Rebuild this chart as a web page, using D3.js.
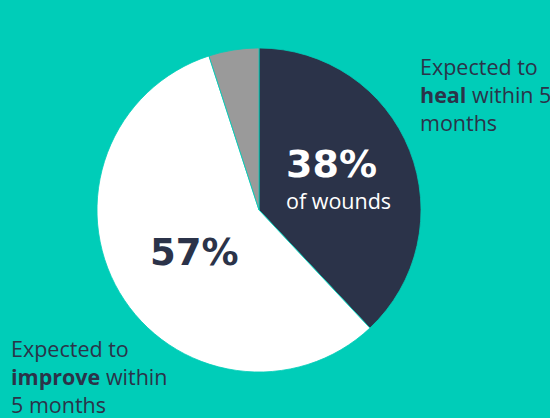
<!DOCTYPE html>
<html><head><meta charset="utf-8">
<script src="https://cdn.jsdelivr.net/npm/d3@7"></script>
<style>html,body{margin:0;padding:0;background:#00CDB8;}svg{display:block;}</style>
</head><body>
<svg id="c" width="550" height="418"></svg>
<script>
const categories = ["Expected to heal within 5 months", "Expected to improve within 5 months", "Other"];
const values = [38, 57, 5];
const colors = ["#2B3349", "#FFFFFF", "#9A9A9A"];
const pctLabels = ["38%", "57%"];

const svg = d3.select("#c");
svg.append("rect").attr("width", 550).attr("height", 418).attr("fill", "#00CDB8");
const cx = 259, cy = 210, r = 162;
const g = svg.append("g").attr("transform", `translate(${cx},${cy})`);
const pie = d3.pie().sort(null).value(d => d)(values);
const arc = d3.arc().innerRadius(0).outerRadius(r);
g.selectAll("path").data(pie).join("path")
  .attr("d", arc).attr("fill", (d, i) => colors[i])
  .attr("stroke", "#00CDB8").attr("stroke-width", 0.8);

const font = "'Open Sans', Lato, sans-serif";
const bigFont = "'DejaVu Sans', 'Open Sans', sans-serif";
const navy = "#2B3349";
function fitText(sel, width) {
  const w = sel.node().getComputedTextLength();
  if (Math.abs(w - width) > 2) sel.attr("textLength", width).attr("lengthAdjust", "spacingAndGlyphs");
}
const t38 = svg.append("text").attr("x", 286).attr("y", 177)
  .attr("font-family", bigFont).attr("font-weight", 700).attr("font-size", 37)
  .attr("fill", "#fff").text(pctLabels[0]);
fitText(t38, 91);
svg.append("text").attr("x", 286).attr("y", 209)
  .attr("font-family", font).attr("font-size", 21.5)
  .attr("fill", "#fff").text("of wounds");
const t57 = svg.append("text").attr("x", 150).attr("y", 265)
  .attr("font-family", bigFont).attr("font-weight", 700).attr("font-size", 37)
  .attr("fill", navy).text(pctLabels[1]);
fitText(t57, 89);

function label(x, y, lines) {
  const t = svg.append("text").attr("font-family", font).attr("font-size", 21.5).attr("fill", navy);
  lines.forEach((ln, i) => {
    const ts = t.append("tspan").attr("x", x).attr("y", y + i * 28);
    ln.forEach(seg => ts.append("tspan").attr("font-weight", seg[1] ? 700 : 400).text(seg[0]));
  });
}
label(420, 75, [[["Expected to", false]], [["heal", true], [" within 5", false]], [["months", false]]]);
label(11, 357, [[["Expected to", false]], [["improve", true], [" within", false]], [["5 months", false]]]);
</script>
</body></html>
